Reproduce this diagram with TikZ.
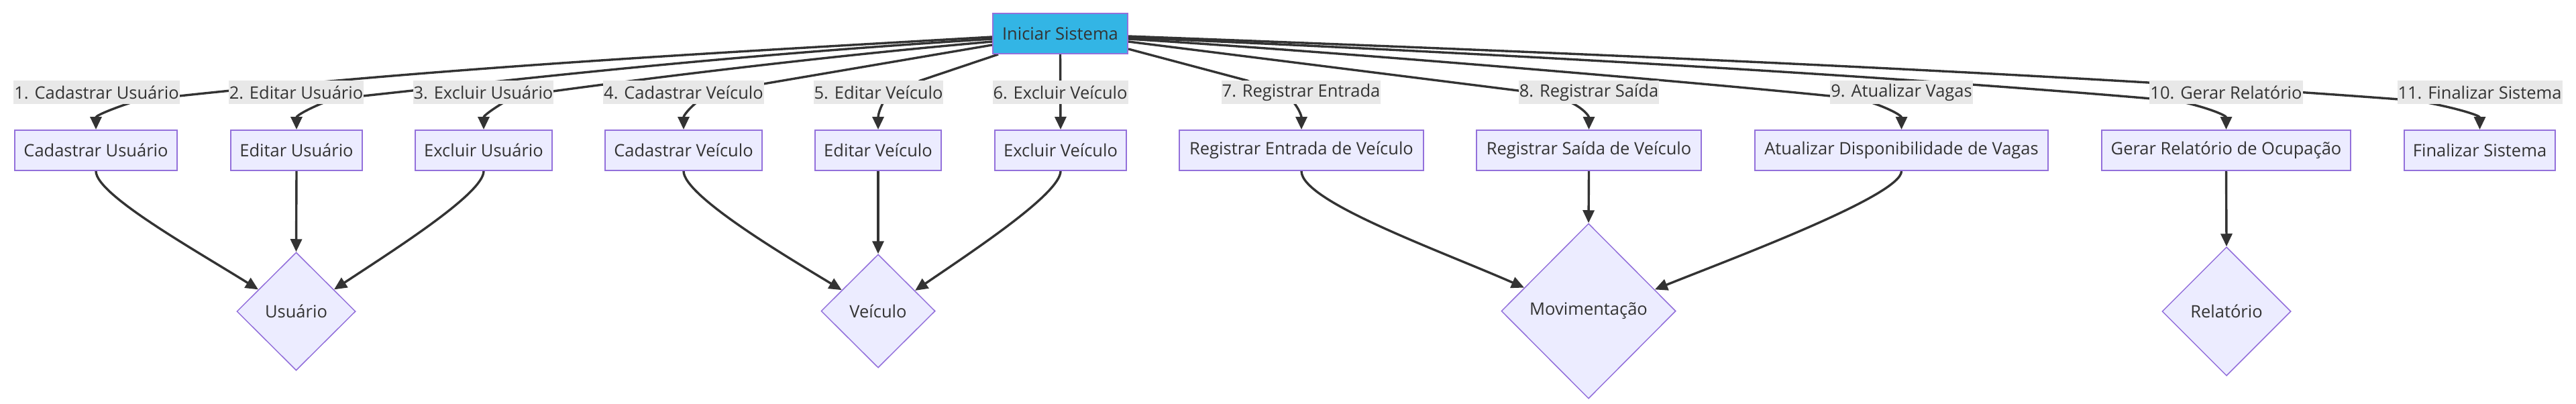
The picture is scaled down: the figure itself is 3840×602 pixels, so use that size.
\documentclass[tikz,border=0pt]{standalone}
\usepackage{fontspec}
\setmainfont{Open Sans}
\usetikzlibrary{shapes.geometric,arrows.meta}
\definecolor{boxfill}{HTML}{ECECFF}
\definecolor{boxdraw}{HTML}{9370DB}
\definecolor{lblfill}{HTML}{E8E8E8}
\definecolor{ink}{HTML}{333333}
\definecolor{startfill}{HTML}{33B5E5}
\pgfdeclarelayer{bg}
\pgfsetlayers{bg,main}
\begin{document}
\begin{tikzpicture}[x=1pt,y=-1pt,
  every node/.style={font=\fontsize{25.5}{30}\selectfont, text=ink},
  procbox/.style={rectangle, draw=boxdraw, fill=boxfill, line width=2pt, minimum height=60pt, inner sep=0pt},
  startbox/.style={procbox, fill=startfill},
  elabel/.style={rectangle, fill=lblfill, minimum height=35pt, inner xsep=1pt, inner ysep=0pt},
  entity/.style={diamond, draw=boxdraw, fill=boxfill, line width=1.5pt, inner sep=0pt},
  conn/.style={draw=ink, line width=3.4pt, line join=round, -{Triangle[length=19pt,width=17pt]}},
]
\useasboundingbox (0,0) rectangle (3840,602);

\node[startbox, minimum width=201pt] (I) at (1580.5,50) {Iniciar Sistema};

\node[procbox, minimum width=242pt] (B1) at (143,224) {Cadastrar Usuário};
\node[procbox, minimum width=196pt] (B2) at (442,224) {Editar Usuário};
\node[procbox, minimum width=204pt] (B3) at (721,224) {Excluir Usuário};
\node[procbox, minimum width=234pt] (B4) at (1019,224) {Cadastrar Veículo};
\node[procbox, minimum width=188pt] (B5) at (1309,224) {Editar Veículo};
\node[procbox, minimum width=196pt] (B6) at (1581,224) {Excluir Veículo};
\node[procbox, minimum width=364pt] (B7) at (1940,224) {Registrar Entrada de Veículo};
\node[procbox, minimum width=335pt] (B8) at (2368.5,224) {Registrar Saída de Veículo};
\node[procbox, minimum width=437pt] (B9) at (2834.5,224) {Atualizar Disponibilidade de Vagas};
\node[procbox, minimum width=371pt] (B10) at (3318.5,224) {Gerar Relatório de Ocupação};
\node[procbox, minimum width=225pt] (B11) at (3696.5,224) {Finalizar Sistema};

\node[elabel] (L1) at (144,137.5) {1. Cadastrar Usuário};
\node[elabel] (L2) at (441.5,137.5) {2. Editar Usuário};
\node[elabel] (L3) at (720.5,137.5) {3. Excluir Usuário};
\node[elabel] (L4) at (1019,137.5) {4. Cadastrar Veículo};
\node[elabel] (L5) at (1309.5,137.5) {5. Editar Veículo};
\node[elabel] (L6) at (1580.5,137.5) {6. Excluir Veículo};
\node[elabel] (L7) at (1939.5,137.5) {7. Registrar Entrada};
\node[elabel] (L8) at (2368.5,137.5) {8. Registrar Saída};
\node[elabel] (L9) at (2834.5,137.5) {9. Atualizar Vagas};
\node[elabel] (L10) at (3318.5,137.5) {10. Gerar Relatório};
\node[elabel] (L11) at (3696.5,137.5) {11. Finalizar Sistema};

\node[entity, minimum width=177pt, minimum height=176pt] (D1) at (441.5,464) {Usuário};
\node[entity, minimum width=170pt, minimum height=169pt] (D2) at (1309,463.5) {Veículo};
\node[entity, minimum width=260pt, minimum height=261pt] (D3) at (2368,463.5) {Movimentação};
\node[entity, minimum width=192pt, minimum height=192pt] (D4) at (3319,464) {Relatório};

\begin{pgfonlayer}{bg}
\draw[conn] ([yshift=-5pt]I.west) .. controls (1080,78) and (667,100) .. (267,143) -- (198,152) .. controls (170,161) and (143,172) .. (B1.north);
\draw[conn] ([yshift=-8pt]I.west) .. controls (1080,83) and (800,115) .. (541,143) -- (485,152) .. controls (462,161) and (442,172) .. (B2.north);
\draw[conn] ([yshift=-12pt]I.west) .. controls (1250,82) and (1000,112) .. (824,136) -- (752,152) .. controls (737,161) and (721,172) .. (B3.north);
\draw[conn] ([yshift=-17pt]I.west) -- (1138,125) -- (1039,152) .. controls (1027,162) and (1019,172) .. (B4.north);
\draw[conn] ([xshift=9pt]I.south west) -- (1372,120) -- (1317,152) .. controls (1311,163) and (1309,172) .. (B5.north);
\draw[conn] (I.south) -- (B6.north);
\draw[conn] ([yshift=-23pt]I.east) -- (1859,120) -- (1928,152) .. controls (1936,162) and (1940,172) .. (B7.north);
\draw[conn] ([yshift=-12pt]I.east) -- (2263,135) -- (2340,152) .. controls (2358,160) and (2368.5,172) .. (B8.north);
\draw[conn] ([yshift=-8pt]I.east) .. controls (2000,78) and (2500,120) .. (2728,143) -- (2787,152) .. controls (2815,161) and (2834.5,172) .. (B9.north);
\draw[conn] ([yshift=-6pt]I.east) .. controls (2200,78) and (2800,112) .. (3207,147) -- (3253,152) .. controls (3293,161) and (3318.5,172) .. (B10.north);
\draw[conn] ([yshift=-4pt]I.east) .. controls (2300,77) and (3050,108) .. (3576,148) -- (3613,152) .. controls (3662,161) and (3696.5,172) .. (B11.north);

\draw[conn] (B1.south) .. controls (143,290) and (290,372) .. (D1.150);
\draw[conn] (B2.south) -- (D1.north);
\draw[conn] (B3.south) .. controls (721,288) and (588,372) .. (D1.30);
\draw[conn] (B4.south) .. controls (1019,292) and (1177,385) .. (D2.150);
\draw[conn] (B5.south) -- (D2.north);
\draw[conn] (B6.south) .. controls (1581,288) and (1452,373) .. (D2.29);
\draw[conn] (B7.south) .. controls (1940,300) and (2143,372) .. (D3.160);
\draw[conn] (B8.south) -- (D3.north);
\draw[conn] (B9.south) .. controls (2834.5,292) and (2572,389) .. (D3.18);
\draw[conn] (B10.south) -- (D4.north);
\end{pgfonlayer}
\end{tikzpicture}
\end{document}
